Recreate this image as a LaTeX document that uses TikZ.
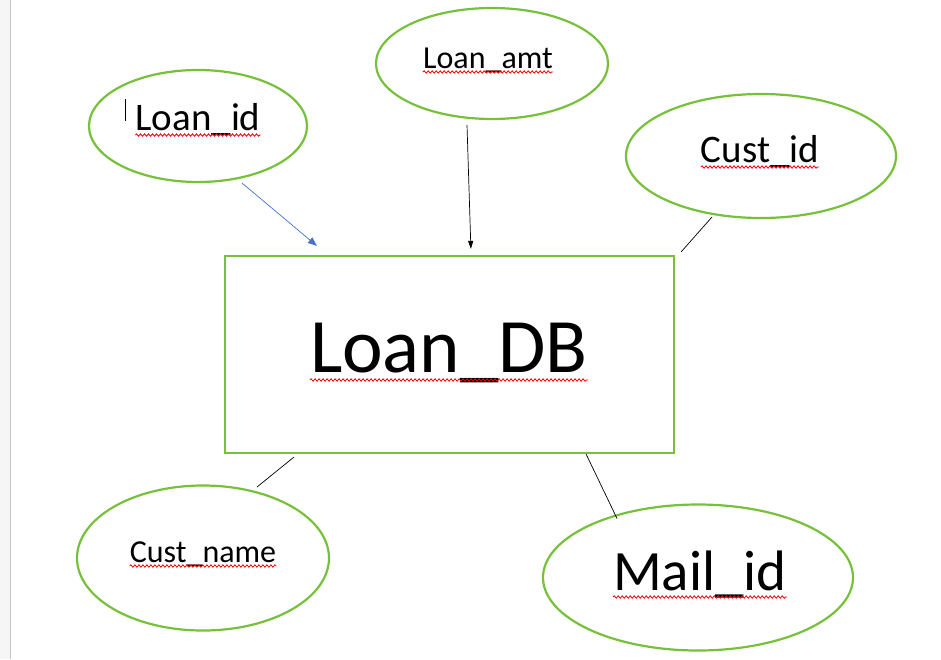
\documentclass[tikz,border=0pt]{standalone}
\usepackage{fontspec}
\setmainfont{Carlito}
\usetikzlibrary{arrows.meta,positioning,shapes.geometric,decorations.pathmorphing}
\definecolor{wordgreen}{RGB}{118,192,58}
\definecolor{wordblue}{RGB}{68,114,196}

\begin{document}
\begin{tikzpicture}
	[x=1pt,y=-1pt,
	attr/.style={ellipse,draw=wordgreen,line width=2.2pt,inner sep=0pt},
	ent/.style={rectangle,draw=wordgreen,line width=2.2pt,inner sep=0pt},
	word/.style={inner sep=0pt,anchor=base},
	squiggle/.style={draw=red,line width=0.8pt,decorate,decoration={snake,amplitude=1.2pt,segment length=4pt}},
	link/.style={draw=black,line width=0.7pt}]
	
	\useasboundingbox (0,0) rectangle (941,659);
	\fill[gray!7] (0,0) rectangle (10,659);
	\draw[gray!45,line width=1pt] (10.5,0) -- (10.5,659);
	
	% entity and attributes
	\node[ent,minimum width=449pt,minimum height=197pt] (ldb) at (449.5,354.5) {};
	\node[attr,minimum width=218pt,minimum height=112pt] (lid) at (198,126) {};
	\node[attr,minimum width=232pt,minimum height=111pt] (lamt) at (492,63.5) {};
	\node[attr,minimum width=270pt,minimum height=124pt] (cid) at (761,156) {};
	\node[attr,minimum width=252pt,minimum height=145pt] (cname) at (203,558) {};
	\node[attr,minimum width=310pt,minimum height=146pt] (mail) at (698,577.5) {};
	
	\node[word,font=\fontsize{77}{90}\selectfont] (tdb) at (449,372) {Loan\_DB};
	\node[word,font=\fontsize{39}{47}\selectfont] (tlid) at (198,130) {Loan\_id};
	\node[word,font=\fontsize{32}{38}\selectfont] (tlamt) at (488,68) {Loan\_amt};
	\node[word,font=\fontsize{39}{47}\selectfont] (tcid) at (760,162) {Cust\_id};
	\node[word,font=\fontsize{32}{38}\selectfont] (tcname) at (203,562) {Cust\_name};
	\node[word,font=\fontsize{57}{68}\selectfont] (tmail) at (700,590) {Mail\_id};
	
	% spell check marks
	\draw[squiggle] ([yshift=-8pt]tdb.base west) -- ([yshift=-8pt]tdb.base east);
	\draw[squiggle] ([yshift=-5pt]tlid.base west) -- ([yshift=-5pt]tlid.base east);
	\draw[squiggle] ([yshift=-4pt]tlamt.base west) -- ([yshift=-4pt]tlamt.base east);
	\draw[squiggle] ([yshift=-5pt]tcid.base west) -- ([yshift=-5pt]tcid.base east);
	\draw[squiggle] ([yshift=-4pt]tcname.base west) -- ([yshift=-4pt]tcname.base east);
	\draw[squiggle] ([yshift=-7pt]tmail.base west) -- ([yshift=-7pt]tmail.base east);
	\draw[line width=0.8pt] (125,99) -- (125,121);
	
	% connectors
	\draw[draw=wordblue,line width=0.7pt,-{Triangle[length=9pt,width=7pt]}] ([shift={(44,57)}]lid.center) -- ([shift={(93,-9)}]ldb.north west);
	\draw[link,-{Triangle[length=8pt,width=5pt]}] ([shift={(-25,61.5)}]lamt.center) -- ([shift={(247,-6)}]ldb.north west);
	\draw[link] ([shift={(-49,61)}]cid.center) -- ([shift={(6,-3)}]ldb.north east);
	\draw[link] ([shift={(70,3)}]ldb.south west) -- ([shift={(54,-71)}]cname.center);
	\draw[link] ([shift={(-89,0)}]ldb.south east) -- ([shift={(-81,-59)}]mail.center);
	
\end{tikzpicture}
\end{document}
